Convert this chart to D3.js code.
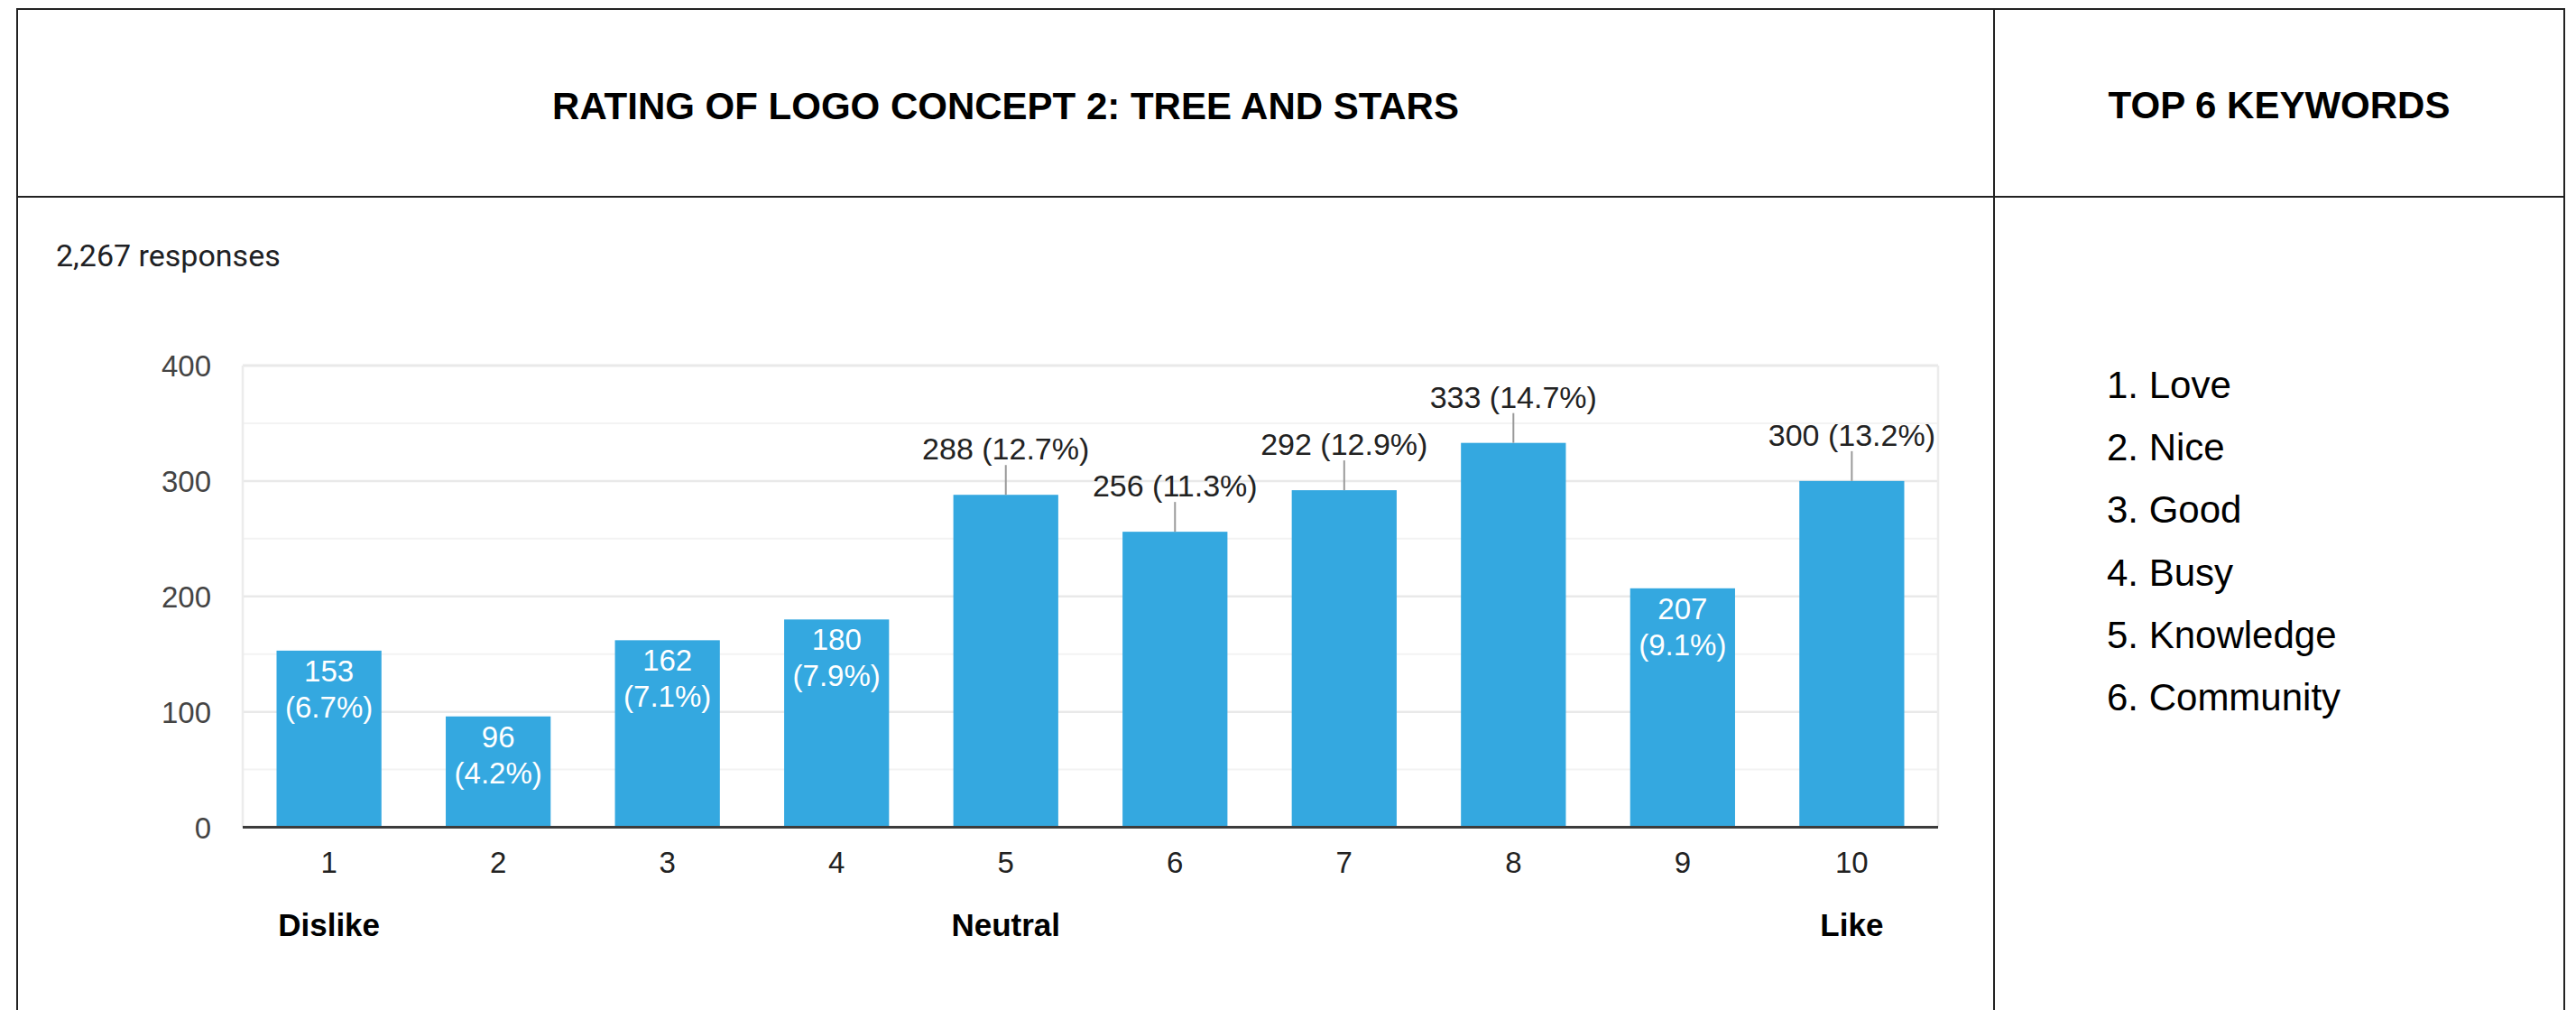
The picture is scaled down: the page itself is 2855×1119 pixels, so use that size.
<!DOCTYPE html>
<html><head><meta charset="utf-8">
<script src="https://cdn.jsdelivr.net/npm/d3@7"></script>
<style>
html,body{margin:0;padding:0;background:#fff;}
svg{display:block;}
</style></head>
<body>
<svg id="chart" width="2855" height="1119"></svg>
<script>
const title = "RATING OF LOGO CONCEPT 2: TREE AND STARS";
const sideTitle = "TOP 6 KEYWORDS";
const responsesText = "2,267 responses";
const categories = ["1","2","3","4","5","6","7","8","9","10"];
const values = [153, 96, 162, 180, 288, 256, 292, 333, 207, 300];
const percents = ["6.7%","4.2%","7.1%","7.9%","12.7%","11.3%","12.9%","14.7%","9.1%","13.2%"];
const yTicks = [0, 100, 200, 300, 400];
const yMinor = [50, 150, 250, 350];
const scaleLabels = [{cat:"1", text:"Dislike"}, {cat:"5", text:"Neutral"}, {cat:"10", text:"Like"}];
const keywords = ["Love","Nice","Good","Busy","Knowledge","Community"];

const svg = d3.select("#chart");
const tableFont = "'Liberation Sans', Arial, Helvetica, sans-serif";
const chartFont = "'Liberation Sans', Arial, sans-serif";
const formFont = "Roboto, 'Liberation Sans', Arial, sans-serif";

// table frame
const T = {left:19, right:2842, top:10, bottom:1130, header:218, divider:2210};
const frame = svg.append("g").attr("stroke","#222").attr("stroke-width",2).attr("fill","none");
frame.append("rect").attr("x",T.left).attr("y",T.top).attr("width",T.right-T.left).attr("height",T.bottom-T.top);
frame.append("line").attr("x1",T.left).attr("x2",T.right).attr("y1",T.header).attr("y2",T.header);
frame.append("line").attr("x1",T.divider).attr("x2",T.divider).attr("y1",T.top).attr("y2",T.bottom);

svg.append("text").attr("x",(T.left+T.divider)/2).attr("y",131.5).attr("text-anchor","middle")
  .attr("font-family",tableFont).attr("font-weight","bold").attr("font-size",42).attr("fill","#000").text(title);
svg.append("text").attr("x",(T.divider+T.right)/2).attr("y",131).attr("text-anchor","middle")
  .attr("font-family",tableFont).attr("font-weight","bold").attr("font-size",42).attr("fill","#000").text(sideTitle);

svg.selectAll("text.kw").data(keywords).join("text").attr("class","kw")
  .attr("x",2335).attr("y",(d,i)=>441+i*69.2)
  .attr("font-family",tableFont).attr("font-size",42).attr("fill","#000")
  .text((d,i)=>(i+1)+". "+d);

svg.append("text").attr("x",62).attr("y",295).attr("font-family",formFont).attr("font-size",34)
  .attr("fill","#202124").text(responsesText);

// chart
const x = d3.scaleBand().domain(categories).range([269, 2148]).paddingInner(0.38).paddingOuter(0.2);
const y = d3.scaleLinear().domain([0, 400]).range([916.5, 405]);

const g = svg.append("g");
g.selectAll("line.minor").data(yMinor).join("line").attr("class","minor")
  .attr("x1",269).attr("x2",2148).attr("y1",d=>y(d)).attr("y2",d=>y(d))
  .attr("stroke","#f3f3f3").attr("stroke-width",2);
g.selectAll("line.major").data(yTicks.filter(d=>d>0)).join("line").attr("class","major")
  .attr("x1",269).attr("x2",2148).attr("y1",d=>y(d)).attr("y2",d=>y(d))
  .attr("stroke","#e9e9e9").attr("stroke-width",d=>d===400?3:2.5);
[269, 2148].forEach(xx=>{
  g.append("line").attr("x1",xx).attr("x2",xx).attr("y1",y(400)).attr("y2",y(0))
    .attr("stroke","#ececec").attr("stroke-width",2.5);
});

// y axis labels
const yAxis = d3.axisLeft(y).tickValues(yTicks).tickSize(0).tickPadding(0).tickFormat(d3.format("d"));
const ya = g.append("g").attr("transform","translate(234,0)").call(yAxis);
ya.select(".domain").remove();
ya.selectAll("text").attr("font-family",chartFont).attr("font-size",33).attr("fill","#444").attr("dy","0.35em");

// bars
const data = categories.map((c,i)=>({cat:c, v:values[i], p:percents[i]}));
g.selectAll("rect.bar").data(data).join("rect").attr("class","bar")
  .attr("x",d=>x(d.cat)).attr("width",x.bandwidth())
  .attr("y",d=>y(d.v)).attr("height",d=>y(0)-y(d.v))
  .attr("fill","#34a8e0");

// baseline
g.append("line").attr("x1",269).attr("x2",2148).attr("y1",y(0)).attr("y2",y(0))
  .attr("stroke","#3c3c3c").attr("stroke-width",3);

// x axis labels
const xAxis = d3.axisBottom(x).tickSize(0).tickPadding(0);
const xa = g.append("g").attr("transform","translate(0,966.7)").call(xAxis);
xa.select(".domain").remove();
xa.selectAll("text").attr("font-family",chartFont).attr("font-size",33).attr("fill","#222").attr("dy",0);

// annotations
const inside = data.filter(d=>d.v < 250);
const outside = data.filter(d=>d.v >= 250);
const cx = d=>x(d.cat)+x.bandwidth()/2;
g.selectAll("text.in1").data(inside).join("text").attr("class","in1")
  .attr("x",cx).attr("y",d=>y(d.v)+34).attr("text-anchor","middle")
  .attr("font-family",chartFont).attr("font-size",33).attr("fill","#fff").text(d=>d.v);
g.selectAll("text.in2").data(inside).join("text").attr("class","in2")
  .attr("x",cx).attr("y",d=>y(d.v)+74).attr("text-anchor","middle")
  .attr("font-family",chartFont).attr("font-size",33).attr("fill","#fff").text(d=>"("+d.p+")");
g.selectAll("line.lead").data(outside).join("line").attr("class","lead")
  .attr("x1",cx).attr("x2",cx).attr("y1",d=>y(d.v)).attr("y2",d=>y(d.v)-33)
  .attr("stroke","#9a9a9a").attr("stroke-width",2);
g.selectAll("text.out").data(outside).join("text").attr("class","out")
  .attr("x",cx).attr("y",d=>y(d.v)-39).attr("text-anchor","middle")
  .attr("font-family",chartFont).attr("font-size",34).attr("fill","#222").text(d=>d.v+" ("+d.p+")");

// scale labels
g.selectAll("text.scale").data(scaleLabels).join("text").attr("class","scale")
  .attr("x",d=>x(d.cat)+x.bandwidth()/2).attr("y",1036.7).attr("text-anchor","middle")
  .attr("font-family",tableFont).attr("font-weight","bold").attr("font-size",35).attr("fill","#000")
  .text(d=>d.text);
</script>
</body></html>
